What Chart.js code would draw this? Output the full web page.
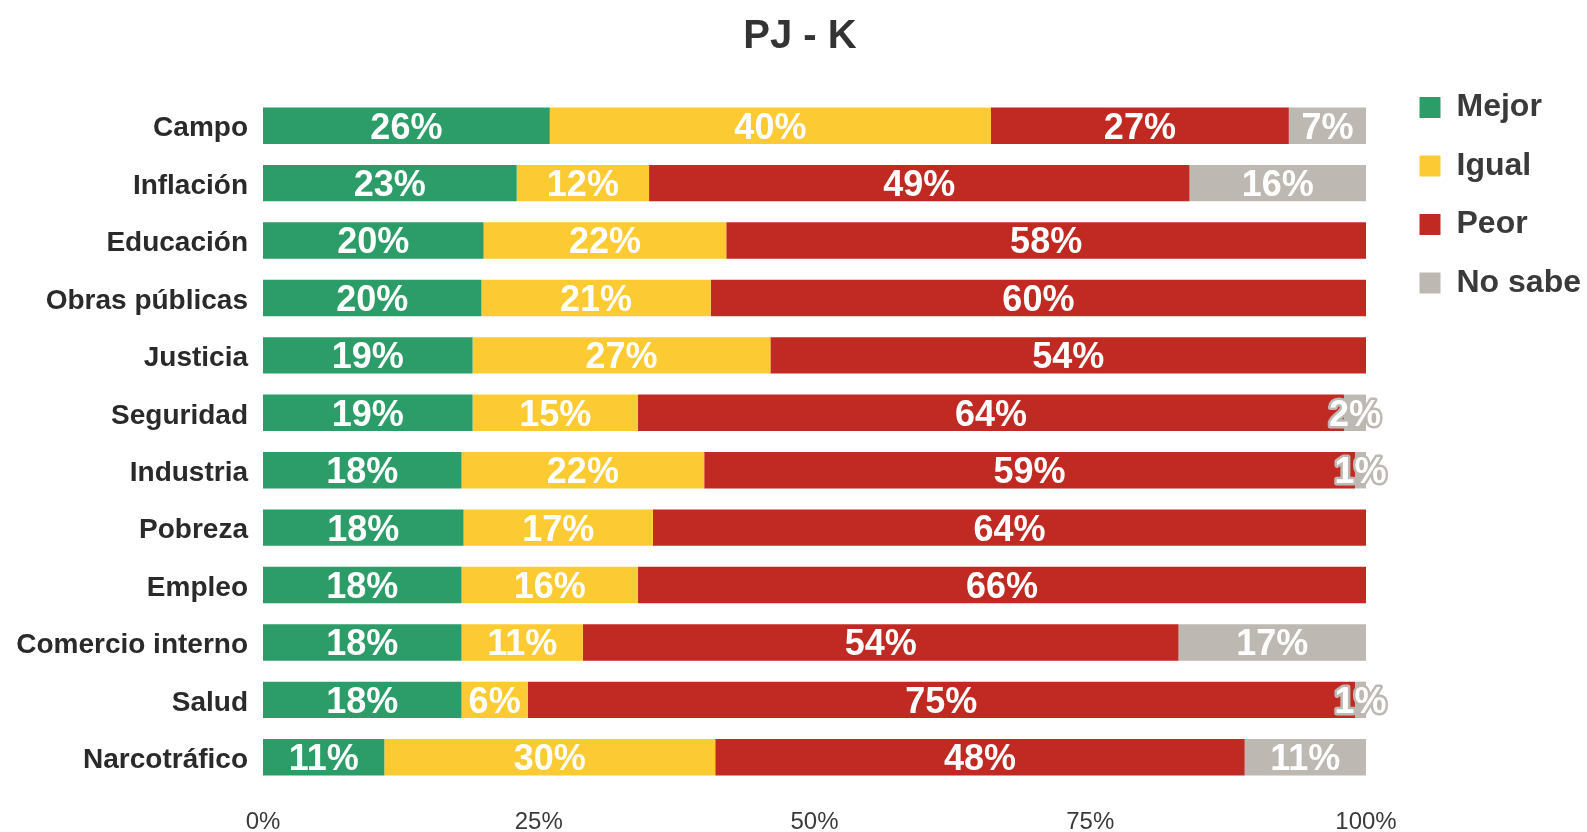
<!DOCTYPE html>
<html>
<head>
<meta charset="utf-8">
<title>PJ - K</title>
<script src="https://cdn.jsdelivr.net/npm/chart.js@4.4.1/dist/chart.umd.min.js"></script>
<style>
  html, body { margin: 0; padding: 0; background: #fff; }
  #wrap { width: 1587px; height: 832px; position: relative; }
</style>
</head>
<body>
<div id="wrap"><canvas id="myChart"></canvas></div>
<script>
// survey answers, one row per topic (top to bottom)
const categories = ['Campo', 'Inflación', 'Educación', 'Obras públicas', 'Justicia', 'Seguridad',
  'Industria', 'Pobreza', 'Empleo', 'Comercio interno', 'Salud', 'Narcotráfico'];
const mejor   = [26, 23, 20, 20, 19, 19, 18, 18, 18, 18, 18, 11];
const igual   = [40, 12, 22, 21, 27, 15, 22, 17, 16, 11,  6, 30];
const peor    = [27, 49, 58, 60, 54, 64, 59, 64, 66, 54, 75, 48];
const noSabe  = [ 7, 16,  0,  0,  0,  2,  1,  0,  0, 17,  1, 11];
const xTicks = [0, 25, 50, 75, 100];

const series = [
  {name: 'Mejor',   values: mejor,  color: '#2c9d69'},
  {name: 'Igual',   values: igual,  color: '#fccb34'},
  {name: 'Peor',    values: peor,   color: '#c02a22'},
  {name: 'No sabe', values: noSabe, color: '#bdb9b2'}
];

// 100% stacked: every row is scaled to its own total
const totals = categories.map((c, i) => series.reduce((s, d) => s + d.values[i], 0));

const data = {
  labels: categories,
  datasets: series.map(s => ({
    label: s.name,
    data: s.values.map((v, i) => v / totals[i] * 100),
    raw: s.values,
    backgroundColor: s.color,
    borderWidth: 0,
    barPercentage: 0.634,
    categoryPercentage: 1
  }))
};

const FONT = "'Liberation Sans', Arial, sans-serif";

const barLabels = {
  id: 'barLabels',
  afterDatasetsDraw(chart) {
    const ctx = chart.ctx;
    ctx.save();
    ctx.font = 'bold 36px ' + FONT;
    ctx.textAlign = 'center';
    ctx.textBaseline = 'middle';
    ctx.lineJoin = 'round';
    chart.data.datasets.forEach((ds, di) => {
      const meta = chart.getDatasetMeta(di);
      meta.data.forEach((bar, i) => {
        const v = ds.raw[i];
        if (!v) return;
        const x = (bar.x + bar.base) / 2;
        const y = bar.y + 3;
        ctx.lineWidth = 5;
        ctx.strokeStyle = ds.backgroundColor;
        ctx.strokeText(v + '%', x, y);
        ctx.fillStyle = '#ffffff';
        ctx.fillText(v + '%', x, y);
      });
    });
    ctx.restore();
  }
};

// legend sits a bit higher and further right than the default right-hand box,
// title is centred slightly right of the canvas middle
const fixLayout = {
  id: 'fixLayout',
  afterLayout(chart) {
    const lg = chart.legend;
    const w = lg.width, h = lg.height;
    lg.left = 1393; lg.right = lg.left + w;
    lg.top = 65; lg.bottom = lg.top + h;
    const tb = chart.titleBlock;
    tb.left = 0; tb.right = 1600;
  }
};

const myChart = new Chart(
  document.getElementById('myChart'),
  {
    type: 'bar',
    data: data,
    plugins: [barLabels, fixLayout],
    options: {
      indexAxis: 'y',
      responsive: true,
      maintainAspectRatio: false,
      animation: false,
      layout: { padding: { left: 0, right: 23, top: 0, bottom: 0 } },
      scales: {
        x: {
          stacked: true,
          min: 0,
          max: 100,
          afterBuildTicks: s => { s.ticks = xTicks.map(v => ({value: v})); },
          afterFit: s => { s.height = 46; },
          grid: { display: false, drawTicks: false },
          border: { display: false },
          ticks: {
            padding: 22,
            color: '#3a3a3a',
            font: { family: FONT, size: 24 },
            callback: v => v + '%'
          }
        },
        y: {
          stacked: true,
          afterFit: s => { s.width = 263; },
          grid: { display: false, drawTicks: false },
          border: { display: false },
          ticks: {
            padding: 15,
            labelOffset: 3,
            color: '#2a2a2a',
            font: { family: FONT, size: 28, weight: 'bold' }
          }
        }
      },
      plugins: {
        title: {
          display: true,
          text: 'PJ - K',
          color: '#333333',
          font: { family: FONT, size: 40, weight: 'bold' },
          padding: { top: 13, bottom: 36 }
        },
        legend: {
          position: 'right',
          align: 'start',
          labels: {
            boxWidth: 21,
            boxHeight: 21,
            padding: 26.5,
            color: '#3a3a3a',
            font: { family: FONT, size: 32, weight: 'bold' }
          }
        },
        tooltip: { enabled: false }
      }
    }
  }
);
</script>
</body>
</html>
